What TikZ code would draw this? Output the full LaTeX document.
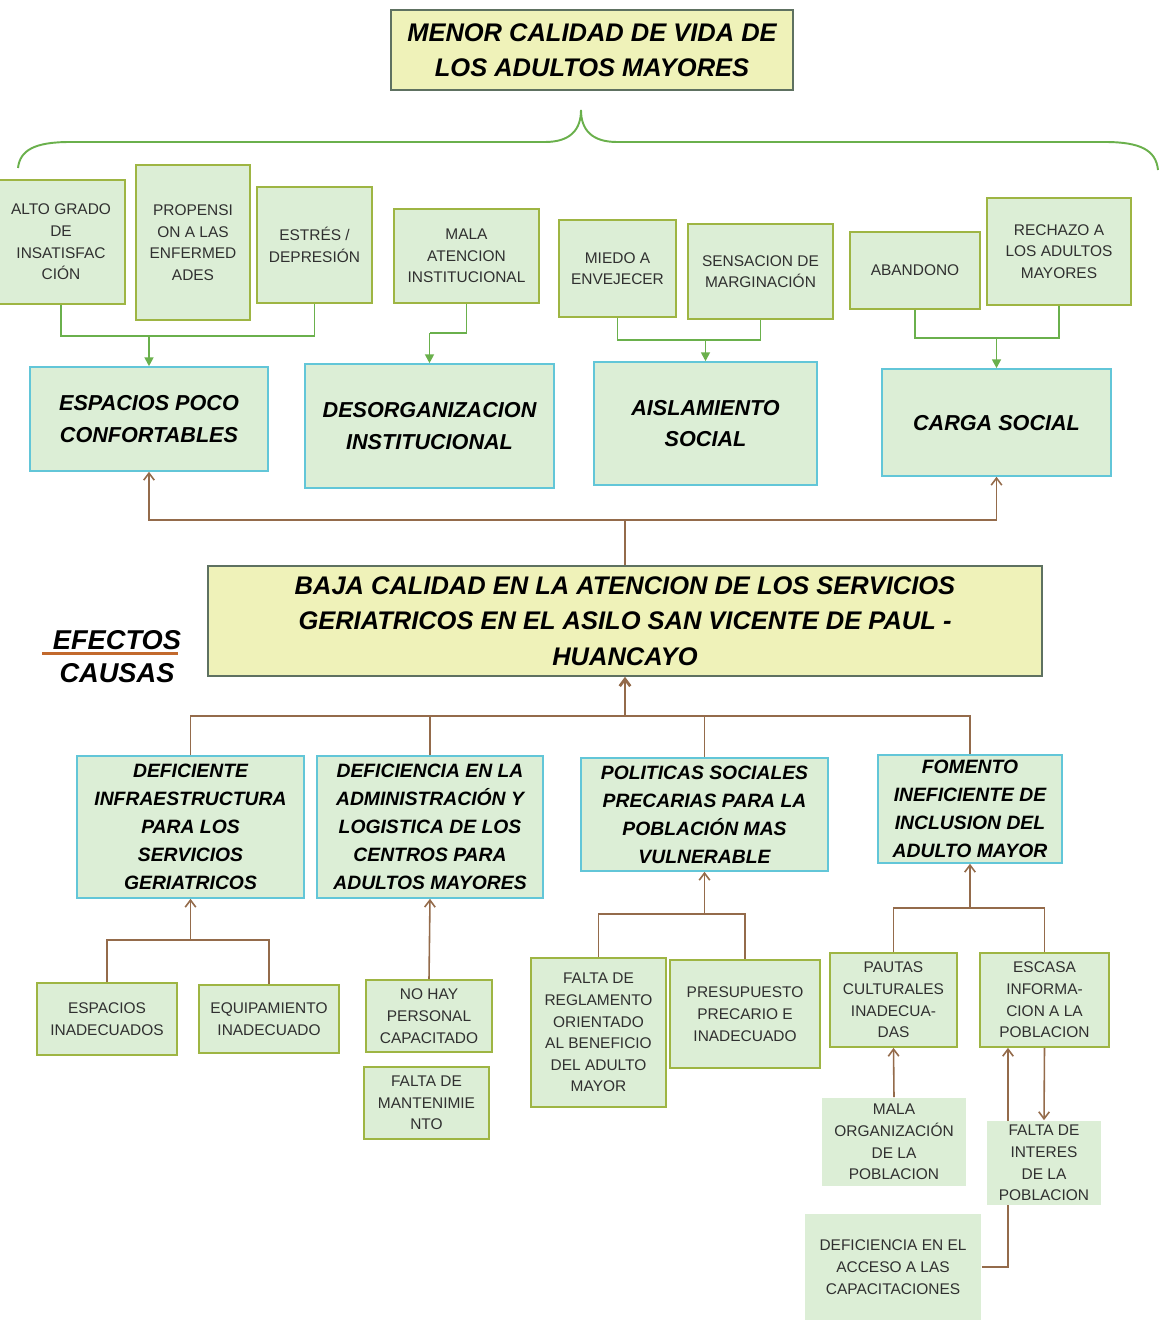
\documentclass[tikz,border=0pt]{standalone}
\usepackage{fontspec}
\setmainfont{Liberation Sans}
\usetikzlibrary{arrows.meta}

\definecolor{boxfill}{HTML}{DCEED6}
\definecolor{olive}{HTML}{9EB543}
\definecolor{cyanline}{HTML}{62C6D8}
\definecolor{titlefill}{HTML}{EFF2B9}
\definecolor{titleline}{HTML}{5E7161}
\definecolor{greenline}{HTML}{6AB04C}
\definecolor{brownline}{HTML}{946B4B}
\definecolor{underline}{HTML}{C2692D}
\definecolor{textgray}{HTML}{303030}

\begin{document}
\begin{tikzpicture}[x=0.02cm, y=-0.02cm,
  span/.style n args={4}{at={({((#1)+(#3))/2},{((#2)+(#4))/2})}, minimum width={((#3)-(#1))*0.02cm}, minimum height={((#4)-(#2))*0.02cm}},
  small/.style={draw=olive, line width=1pt, fill=boxfill, inner sep=0pt, text depth=0pt, align=center, text=textgray, font=\fontsize{8.8}{12.3}\selectfont},
  plain/.style={small, draw=none},
  effect/.style={draw=cyanline, line width=0.9pt, fill=boxfill, inner sep=0pt, text depth=0pt, align=center, font=\fontsize{12.3}{18}\selectfont\bfseries\itshape},
  cause/.style={effect, font=\fontsize{11}{15.9}\selectfont\bfseries\itshape},
  title/.style={draw=titleline, line width=0.9pt, fill=titlefill, inner sep=0pt, text depth=0pt, align=center, font=\fontsize{14.5}{20}\selectfont\bfseries\itshape},
  side/.style={inner sep=0pt, font=\fontsize{15.5}{20}\selectfont\bfseries\itshape},
  gline/.style={draw=greenline, line width=1.1pt},
  garrow/.style={gline, -{Triangle[length=5pt, width=5pt]}},
  bline/.style={draw=brownline, line width=0.9pt},
  barrow/.style={bline, -{Straight Barb[length=4pt, width=6pt]}}]
\useasboundingbox (0,0) rectangle (1159,1321);

\node[title, span={391}{10}{793}{90}] (menor) {MENOR CALIDAD DE VIDA DE\\LOS ADULTOS MAYORES};
\draw [gline] (18,168) .. controls (20,150) and (35,142) .. (70,142) -- (545,142)
  .. controls (570,142) and (581,130) .. (581,110)
  .. controls (581,130) and (592,142) .. (617,142) -- (1105,142)
  .. controls (1140,142) and (1156,150) .. (1158,170);

\node[small, span={-3}{180}{125}{304}] (alto) {ALTO GRADO\\DE\\INSATISFAC\\CIÓN};
\node[small, span={136}{165}{250}{320}] (propensi) {PROPENSI\\ON A LAS\\ENFERMED\\ADES};
\node[small, span={257}{187}{372}{303}] (estres) {ESTRÉS /\\DEPRESIÓN};
\node[small, span={394}{209}{539}{303}] (malaat) {MALA\\ATENCION\\INSTITUCIONAL};
\node[small, span={559}{220}{676}{317}] (miedo) {MIEDO A\\ENVEJECER};
\node[small, span={688}{224}{833}{319}] (sensacion) {SENSACION DE\\MARGINACIÓN};
\node[small, span={850}{232}{980}{309}] (abandono) {ABANDONO};
\node[small, span={987}{198}{1131}{305}] (rechazo) {RECHAZO A\\LOS ADULTOS\\MAYORES};

\node[effect, span={30}{367}{268}{471}] (espacios) {ESPACIOS POCO\\CONFORTABLES};
\node[effect, span={305}{364}{554}{488}] (desorg) {DESORGANIZACION\\INSTITUCIONAL};
\node[effect, span={594}{362}{817}{485}] (aislamiento) {AISLAMIENTO\\SOCIAL};
\node[effect, span={882}{369}{1111}{476}] (carga) {CARGA SOCIAL};

\coordinate (g1) at (149,336);
\draw [gline] (alto.south) |- (g1) -| (estres.south);
\draw [garrow] (g1) -- (espacios.north);
\coordinate (g2) at (429.5,333);
\draw [gline] (malaat.south) |- (g2);
\draw [garrow] (g2) -- (desorg.north);
\coordinate (g3) at (705.5,340);
\draw [gline] (miedo.south) |- (g3) -| (sensacion.south);
\draw [garrow] (g3) -- (aislamiento.north);
\coordinate (g4) at (996.5,338);
\draw [gline] (abandono.south) |- (g4) -| (rechazo.south);
\draw [garrow] (g4) -- (carga.north);

\node[title, span={208}{566}{1042}{676}] (baja) {BAJA CALIDAD EN LA ATENCION DE LOS SERVICIOS\\GERIATRICOS EN EL ASILO SAN VICENTE DE PAUL -\\HUANCAYO};
\coordinate (e0) at (625,520);
\draw [bline] (baja.north) -- (e0);
\draw [barrow] (e0) -| (espacios.south);
\draw [barrow] (e0) -| (carga.south);

\node[side] (efectos) at (117,640) {EFECTOS};
\node[side] (causas) at (117,673) {CAUSAS};
\draw [underline, line width=1.8pt] ([xshift=-6pt, yshift=-2.5pt]efectos.base west) -- ([xshift=-2pt, yshift=-2.5pt]efectos.base east);

\node[cause, span={77}{756}{304}{898}] (deficiente) {DEFICIENTE\\INFRAESTRUCTURA\\PARA LOS\\SERVICIOS\\GERIATRICOS};
\node[cause, span={317}{756}{543}{898}] (administracion) {DEFICIENCIA EN LA\\ADMINISTRACIÓN Y\\LOGISTICA DE LOS\\CENTROS PARA\\ADULTOS MAYORES};
\node[cause, span={581}{758}{828}{871}] (politicas) {POLITICAS SOCIALES\\PRECARIAS PARA LA\\POBLACIÓN MAS\\VULNERABLE};
\node[cause, span={878}{755}{1062}{863}] (fomento) {FOMENTO\\INEFICIENTE DE\\INCLUSION DEL\\ADULTO MAYOR};

\coordinate (c0) at (625,716);
\draw [bline] (deficiente.north) |- (c0) -| (fomento.north);
\draw [bline] (administracion.north) |- (c0);
\draw [bline] (politicas.north) |- (c0);
\draw [barrow, line width=1.6pt] (c0) -- (baja.south);

\node[small, span={37}{983}{177}{1055}] (espin) {ESPACIOS\\INADECUADOS};
\node[small, span={199}{985}{339}{1053}] (equip) {EQUIPAMIENTO\\INADECUADO};
\node[small, span={366}{980}{492}{1052}] (nohay) {NO HAY\\PERSONAL\\CAPACITADO};
\node[small, span={364}{1067}{489}{1139}] (mantenimiento) {FALTA DE\\MANTENIMIE\\NTO};
\node[small, span={531}{958}{666}{1107}] (reglamento) {FALTA DE\\REGLAMENTO\\ORIENTADO\\AL BENEFICIO\\DEL ADULTO\\MAYOR};
\node[small, span={670}{960}{820}{1068}] (presupuesto) {PRESUPUESTO\\PRECARIO E\\INADECUADO};
\node[small, span={830}{953}{957}{1047}] (pautas) {PAUTAS\\CULTURALES\\INADECUA-\\DAS};
\node[small, span={980}{953}{1109}{1047}] (escasa) {ESCASA\\INFORMA-\\CION A LA\\POBLACION};
\node[plain, span={822}{1098}{966}{1186}] (malaorg) {MALA\\ORGANIZACIÓN\\DE LA\\POBLACION};
\node[plain, span={805}{1214}{981}{1320}] (acceso) {DEFICIENCIA EN EL\\ACCESO A LAS\\CAPACITACIONES};

\coordinate (d1) at (190.5,940);
\draw [bline] (espin.north) |- (d1) -| (equip.north);
\draw [barrow] (d1) -- (deficiente.south);
\draw [barrow] (nohay.north) -- (administracion.south);
\coordinate (p1) at (704.5,914);
\draw [bline] (reglamento.north) |- (p1) -| (presupuesto.north);
\draw [barrow] (p1) -- (politicas.south);
\coordinate (f1) at (970,908);
\draw [bline] (pautas.north) |- (f1) -| (escasa.north);
\draw [barrow] (f1) -- (fomento.south);
\draw [barrow] (malaorg.north) -- (pautas.south);
\coordinate (k1) at (1008,0);
\draw [barrow] (acceso.east) -| (k1 |- escasa.south);

\node[plain, span={987}{1121}{1101}{1205}] (interes) {FALTA DE\\INTERES\\DE LA\\POBLACION};
\draw [barrow] (escasa.south) -- (interes.north);
\end{tikzpicture}
\end{document}
